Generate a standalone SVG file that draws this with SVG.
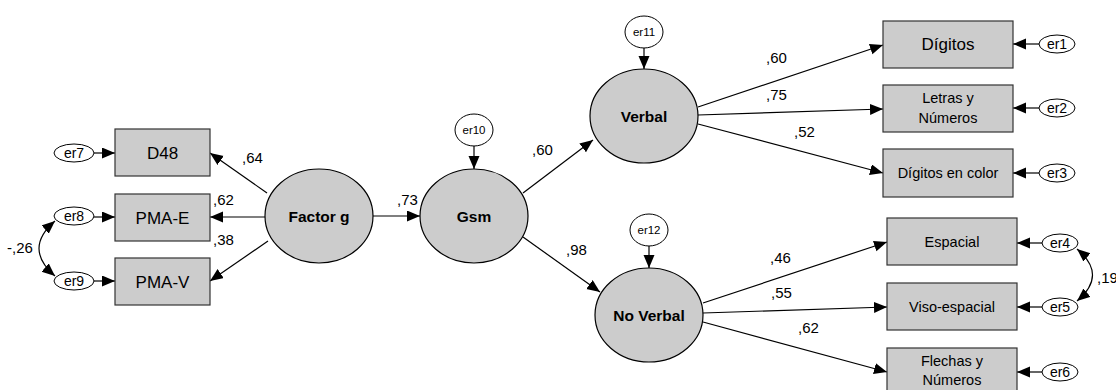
<svg xmlns="http://www.w3.org/2000/svg" width="1116" height="390" viewBox="0 0 1116 390">
<defs>
<marker id="ah" markerUnits="userSpaceOnUse" markerWidth="14" markerHeight="12" refX="13" refY="5.5" orient="auto-start-reverse">
<path d="M0,0 L13,5.5 L0,11 Z" fill="#000"/>
</marker>
<style>
.box{fill:#cccccc;stroke:#333;stroke-width:1.2}
.lat{fill:#cccccc;stroke:#000;stroke-width:1.2}
.err{fill:#fff;stroke:#000;stroke-width:1}
.ln{fill:none;stroke:#000;stroke-width:1.2;marker-end:url(#ah)}
.cor{fill:none;stroke:#000;stroke-width:1.2;marker-start:url(#ah);marker-end:url(#ah)}
text{font-family:"Liberation Sans",Arial,sans-serif;fill:#000}
.bt{font-size:17px;text-anchor:middle}
.st{font-size:14.5px;text-anchor:middle}
.lt{font-size:15.5px;font-weight:bold;text-anchor:middle}
.et{font-size:14px;text-anchor:middle}
.es{font-size:11.5px;text-anchor:middle}
.cf{font-size:15px}
</style>
</defs>

<g id="connectors">
<line class="ln" x1="94" y1="153" x2="115" y2="153"/>
<line class="ln" x1="93" y1="217" x2="115" y2="217"/>
<line class="ln" x1="93" y1="281" x2="115" y2="281"/>
<path class="cor" d="M55,221 Q23,248.5 55,276"/>
<line class="ln" x1="267" y1="193" x2="210" y2="153"/>
<line class="ln" x1="265" y1="217" x2="210" y2="217"/>
<line class="ln" x1="268" y1="241" x2="210" y2="281"/>
<line class="ln" x1="373" y1="216" x2="420" y2="216"/>
<line class="ln" x1="474" y1="146" x2="474" y2="169"/>
<line class="ln" x1="523" y1="193" x2="593" y2="140"/>
<line class="ln" x1="523" y1="237" x2="600" y2="292"/>
<line class="ln" x1="644" y1="48" x2="644" y2="69"/>
<line class="ln" x1="649" y1="246" x2="649" y2="268"/>
<line class="ln" x1="698" y1="107" x2="883" y2="45"/>
<line class="ln" x1="698" y1="115" x2="883" y2="109"/>
<line class="ln" x1="698" y1="124" x2="883" y2="173"/>
<line class="ln" x1="703" y1="303" x2="887" y2="242"/>
<line class="ln" x1="703" y1="313" x2="887" y2="307"/>
<line class="ln" x1="703" y1="322" x2="887" y2="372"/>
<line class="ln" x1="1039" y1="44" x2="1013" y2="44"/>
<line class="ln" x1="1039" y1="108" x2="1013" y2="108"/>
<line class="ln" x1="1039" y1="173" x2="1013" y2="173"/>
<line class="ln" x1="1042" y1="243" x2="1017" y2="243"/>
<line class="ln" x1="1042" y1="307" x2="1017" y2="307"/>
<line class="ln" x1="1042" y1="372" x2="1017" y2="372"/>
<path class="cor" d="M1077,249 Q1108,275 1077,301"/>
</g>

<g id="coefs">
<text class="cf" x="7" y="253">-,26</text>
<text class="cf" x="242" y="163">,64</text>
<text class="cf" x="213" y="205">,62</text>
<text class="cf" x="213" y="245">,38</text>
<text class="cf" x="397" y="205">,73</text>
<text class="cf" x="532" y="155">,60</text>
<text class="cf" x="566" y="255">,98</text>
<text class="cf" x="766" y="63">,60</text>
<text class="cf" x="766" y="100">,75</text>
<text class="cf" x="794" y="137">,52</text>
<text class="cf" x="770" y="263">,46</text>
<text class="cf" x="771" y="298">,55</text>
<text class="cf" x="798" y="333">,62</text>
<text class="cf" x="1097" y="283">,19</text>
</g>

<g id="er7"><ellipse class="err" cx="74" cy="153" rx="20" ry="9"/><text class="et" x="74" y="158">er7</text></g>
<g id="er8"><ellipse class="err" cx="74" cy="216" rx="20" ry="9"/><text class="et" x="74" y="221">er8</text></g>
<g id="er9"><ellipse class="err" cx="74" cy="281" rx="20" ry="9"/><text class="et" x="74" y="286">er9</text></g>

<g id="D48"><rect class="box" x="115" y="129" width="95" height="47"/><text class="bt" x="162.5" y="158.5">D48</text></g>
<g id="PMA-E"><rect class="box" x="115" y="194" width="95" height="47"/><text class="bt" x="162.5" y="223.5">PMA-E</text></g>
<g id="PMA-V"><rect class="box" x="115" y="258" width="95" height="47"/><text class="bt" x="162.5" y="287.5">PMA-V</text></g>

<g id="FactorG"><ellipse class="lat" cx="319" cy="216" rx="54" ry="47"/><text class="lt" x="319" y="221.5">Factor g</text></g>
<g id="er10"><ellipse class="err" cx="474" cy="130" rx="19" ry="16"/><text class="es" x="474" y="134">er10</text></g>
<g id="Gsm"><ellipse class="lat" cx="474" cy="216" rx="54" ry="47"/><text class="lt" x="474" y="221.5">Gsm</text></g>

<g id="er11"><ellipse class="err" cx="644" cy="32" rx="19" ry="16"/><text class="es" x="644" y="36">er11</text></g>
<g id="Verbal"><ellipse class="lat" cx="644" cy="116" rx="54" ry="47"/><text class="lt" x="644" y="121.5">Verbal</text></g>
<g id="er12"><ellipse class="err" cx="649" cy="230" rx="19" ry="16"/><text class="es" x="649" y="234">er12</text></g>
<g id="NoVerbal"><ellipse class="lat" cx="649" cy="315" rx="54" ry="47"/><text class="lt" x="649" y="320.5">No Verbal</text></g>

<g id="Digitos"><rect class="box" x="883" y="21" width="130" height="47"/><text class="bt" x="948" y="50">Dígitos</text></g>
<g id="Letras"><rect class="box" x="883" y="85" width="130" height="47"/><text class="st" x="948" y="103">Letras y</text><text class="st" x="948" y="123">Números</text></g>
<g id="DigitosColor"><rect class="box" x="883" y="149" width="130" height="48"/><text class="st" x="948" y="178">Dígitos en color</text></g>
<g id="Espacial"><rect class="box" x="887" y="218" width="130" height="47"/><text class="st" x="952" y="246.5">Espacial</text></g>
<g id="Viso"><rect class="box" x="887" y="283" width="130" height="47"/><text class="st" x="952" y="311.5">Viso-espacial</text></g>
<g id="Flechas"><rect class="box" x="887" y="348" width="130" height="47"/><text class="st" x="952" y="366">Flechas y</text><text class="st" x="952" y="385">Números</text></g>

<g id="er1"><ellipse class="err" cx="1057" cy="44" rx="18" ry="9"/><text class="et" x="1057" y="49">er1</text></g>
<g id="er2"><ellipse class="err" cx="1057" cy="108" rx="18" ry="9"/><text class="et" x="1057" y="113">er2</text></g>
<g id="er3"><ellipse class="err" cx="1057" cy="173" rx="18" ry="9"/><text class="et" x="1057" y="178">er3</text></g>
<g id="er4"><ellipse class="err" cx="1060" cy="243" rx="18" ry="9"/><text class="et" x="1060" y="248">er4</text></g>
<g id="er5"><ellipse class="err" cx="1060" cy="307" rx="18" ry="9"/><text class="et" x="1060" y="312">er5</text></g>
<g id="er6"><ellipse class="err" cx="1060" cy="372" rx="18" ry="9"/><text class="et" x="1060" y="377">er6</text></g>
</svg>
